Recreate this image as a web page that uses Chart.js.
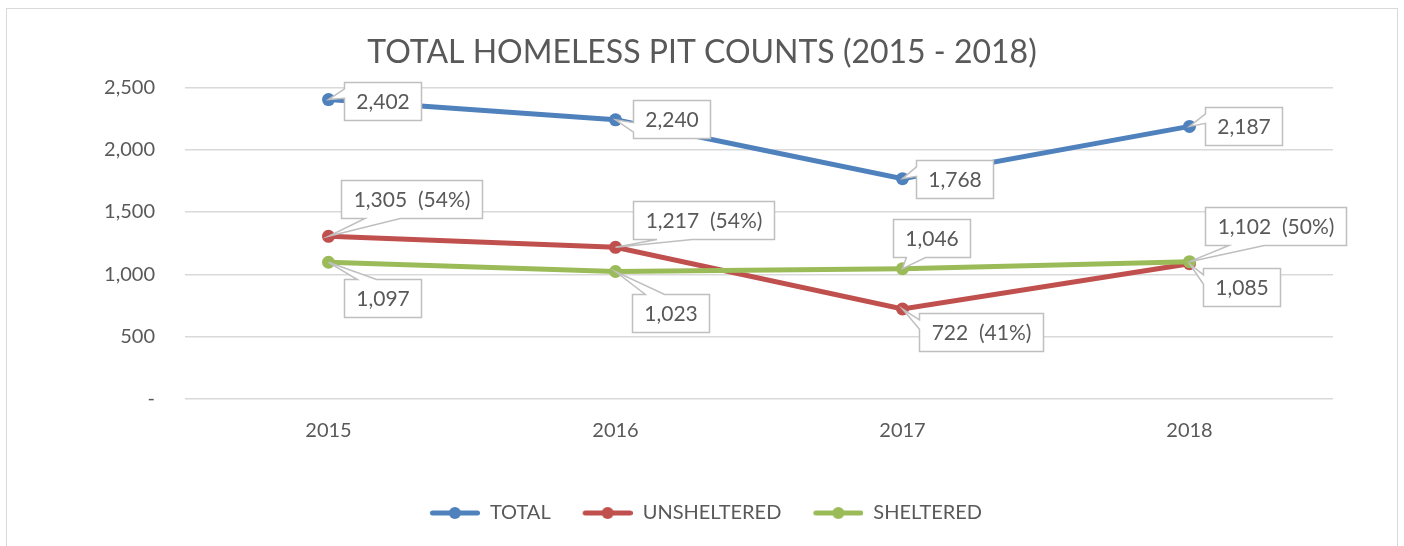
<!DOCTYPE html>
<html>
<head>
<meta charset="utf-8">
<script src="https://cdn.jsdelivr.net/npm/chart.js@4"></script>
<style>
  html, body { margin: 0; padding: 0; background: #ffffff; }
  #frame {
    position: absolute; left: 6px; top: 8px; width: 1392px; height: 560px;
    border: 1.5px solid #d9d9d9; box-sizing: border-box;
  }
  #wrap { position: absolute; left: 0; top: 0; width: 1404px; height: 546px; }
</style>
</head>
<body>
<div id="frame"></div>
<div id="wrap"><canvas id="myChart" width="1404" height="546"></canvas></div>
<script>
// chart values
const years = ['2015', '2016', '2017', '2018'];
const totalCounts = [2402, 2240, 1768, 2187];
const unshelteredCounts = [1305, 1217, 722, 1085];
const shelteredCounts = [1097, 1023, 1046, 1102];
const unshelteredShare = ['54%', '54%', '41%', null];
const shelteredShare = [null, null, null, '50%'];
const yMin = 0;
const yMax = 2500;
const yStep = 500;

const fontName = 'Lato, "Open Sans", sans-serif';
const textColor = '#595959';
let colors = ['#4f81bd', '#c0504d', '#9bbb59'];

// where each callout box sits, relative to its point (pixels)
const calloutOffsets = [
  [[54, 1], [56, -1], [52, 0], [54, 0]],
  [[83, -37], [88, -27], [78, 23], [52, 23]],
  [[54, 36], [55, 42], [29, -31], [86, -36]]
];
const shares = [[null, null, null, null], unshelteredShare, shelteredShare];

function labelText(value, share) {
  let s = value.toLocaleString('en-US');
  if (share) s += '  (' + share + ')';
  return s;
}

// legend marker: short line with a dot, a little blank space on the left
function legendIcon(color) {
  let c = document.createElement('canvas');
  c.width = 58; c.height = 16;
  let g = c.getContext('2d');
  g.strokeStyle = color;
  g.lineWidth = 5;
  g.lineCap = 'round';
  g.beginPath();
  g.moveTo(10.5, 8); g.lineTo(55.5, 8);
  g.stroke();
  g.fillStyle = color;
  g.beginPath();
  g.arc(33, 8, 6, 0, Math.PI * 2);
  g.fill();
  return c;
}

function calloutPath(ctx, l, t, w, h, px, py) {
  let cx = l + w / 2, cy = t + h / 2;
  let dx = (px - cx) / w, dy = (py - cy) / h;
  let side;
  if (Math.abs(dx) > Math.abs(dy)) side = dx < 0 ? 'left' : 'right';
  else side = dy < 0 ? 'top' : 'bottom';
  let xa = px < cx ? [l + w / 6, l + 5 * w / 12] : [l + 7 * w / 12, l + 5 * w / 6];
  let ya = py <= cy ? [t + h / 6, t + 5 * h / 12] : [t + 7 * h / 12, t + 5 * h / 6];
  ctx.beginPath();
  ctx.moveTo(l, t);
  if (side === 'top') { ctx.lineTo(xa[0], t); ctx.lineTo(px, py); ctx.lineTo(xa[1], t); }
  ctx.lineTo(l + w, t);
  if (side === 'right') { ctx.lineTo(l + w, ya[0]); ctx.lineTo(px, py); ctx.lineTo(l + w, ya[1]); }
  ctx.lineTo(l + w, t + h);
  if (side === 'bottom') { ctx.lineTo(xa[1], t + h); ctx.lineTo(px, py); ctx.lineTo(xa[0], t + h); }
  ctx.lineTo(l, t + h);
  if (side === 'left') { ctx.lineTo(l, ya[1]); ctx.lineTo(px, py); ctx.lineTo(l, ya[0]); }
  ctx.closePath();
}

const calloutPlugin = {
  id: 'callouts',
  afterDatasetsDraw(chart) {
    const ctx = chart.ctx;
    ctx.save();
    ctx.font = '21px ' + fontName;
    ctx.textAlign = 'center';
    ctx.textBaseline = 'middle';
    chart.data.datasets.forEach(function(ds, i) {
      const meta = chart.getDatasetMeta(i);
      meta.data.forEach(function(pt, j) {
        const text = labelText(ds.data[j], shares[i][j]);
        const w = Math.round(ctx.measureText(text).width + 24);
        const h = 38;
        const cx = pt.x + calloutOffsets[i][j][0];
        const cy = pt.y + calloutOffsets[i][j][1];
        const l = Math.round(cx - w / 2) + 0.5, t = Math.round(cy - h / 2) + 0.5;
        calloutPath(ctx, l, t, w, h, pt.x, pt.y);
        ctx.fillStyle = '#ffffff';
        ctx.fill();
        ctx.strokeStyle = '#bfbfbf';
        ctx.lineWidth = 1.5;
        ctx.stroke();
        ctx.fillStyle = textColor;
        ctx.fillText(text, l + w / 2, t + h / 2 + 1);
      });
    });
    ctx.restore();
  }
};

var ctx = document.getElementById('myChart').getContext('2d');

var chart = new Chart(ctx, {
  type: 'line',
  data: {
    labels: years,
    datasets: [{
      label: 'TOTAL',
      data: totalCounts,
      borderColor: colors[0],
      backgroundColor: colors[0],
      order: 3
    }, {
      label: 'UNSHELTERED',
      data: unshelteredCounts,
      borderColor: colors[1],
      backgroundColor: colors[1],
      order: 2
    }, {
      label: 'SHELTERED',
      data: shelteredCounts,
      borderColor: colors[2],
      backgroundColor: colors[2],
      order: 1
    }]
  },
  plugins: [calloutPlugin],
  options: {
    responsive: false,
    animation: false,
    events: [],
    elements: {
      line: { borderWidth: 5, tension: 0, borderCapStyle: 'round' },
      point: { radius: 6.5, borderWidth: 0 }
    },
    layout: { padding: { left: 0, right: 0, top: 0, bottom: 13 } },
    scales: {
      x: {
        offset: true,
        grid: { display: false, drawTicks: false },
        border: { display: false },
        ticks: { color: textColor, font: { family: fontName, size: 20 }, padding: 20 },
        afterFit: function(s) { s.height = 80; }
      },
      y: {
        min: yMin,
        max: yMax,
        grid: { color: '#d9d9d9', lineWidth: 1.5, drawTicks: false },
        border: { display: false },
        ticks: {
          stepSize: yStep,
          padding: 30,
          color: textColor,
          font: { family: fontName, size: 20 },
          callback: function(v) { return v === 0 ? '-' : v.toLocaleString('en-US'); }
        },
        afterFit: function(s) { s.width = 185; }
      },
      spacer: {
        type: 'linear',
        position: 'right',
        grid: { display: false, drawTicks: false },
        border: { display: false },
        ticks: { display: false },
        afterFit: function(s) { s.width = 71; }
      }
    },
    plugins: {
      title: {
        display: true,
        text: 'TOTAL HOMELESS PIT COUNTS (2015 - 2018)',
        color: textColor,
        font: { family: fontName, size: 32, weight: 'normal' },
        padding: { top: 33, bottom: 16 }
      },
      legend: {
        position: 'bottom',
        labels: {
          usePointStyle: true,
          pointStyleWidth: 58,
          padding: 24,
          color: textColor,
          font: { family: fontName, size: 20 },
          generateLabels: function(chart) {
            return chart.data.datasets.map(function(ds, i) {
              return {
                text: ds.label,
                pointStyle: legendIcon(ds.borderColor),
                fillStyle: ds.borderColor,
                strokeStyle: ds.borderColor,
                lineWidth: 0,
                fontColor: textColor,
                hidden: false,
                datasetIndex: i
              };
            });
          }
        }
      },
      tooltip: { enabled: false }
    }
  }
});
</script>
</body>
</html>
